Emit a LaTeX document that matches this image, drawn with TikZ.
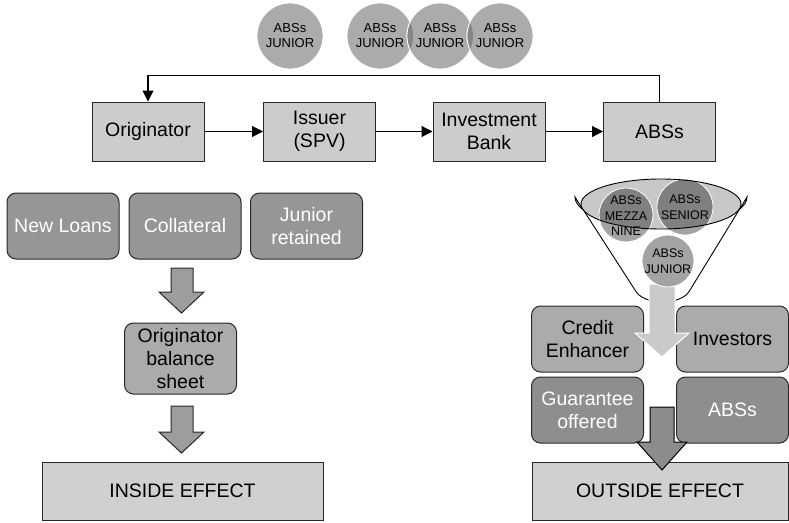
\documentclass[tikz,border=0pt]{standalone}
\usepackage{fontspec}
\setmainfont{Liberation Sans}
\usetikzlibrary{arrows.meta}

\definecolor{boxlight}{RGB}{204,204,204}
\definecolor{effectfill}{RGB}{208,208,208}
\definecolor{darkbox}{RGB}{150,150,150}
\definecolor{midbox}{RGB}{171,171,171}
\definecolor{darkbox2}{RGB}{142,142,142}
\definecolor{arrowdark}{RGB}{157,157,157}
\definecolor{arrowdarkR}{RGB}{140,140,140}
\definecolor{arrowlight}{RGB}{202,202,202}
\definecolor{circfill}{RGB}{171,171,171}
\definecolor{lensfill}{RGB}{133,133,133}
\definecolor{bowlfill}{RGB}{200,200,200}
\definecolor{ballout}{RGB}{163,163,163}
\definecolor{ballin}{RGB}{128,128,128}
\definecolor{edge}{RGB}{40,40,40}

\newcommand{\bigtext}{\fontsize{19.5}{23}\selectfont}
\newcommand{\smalltext}{\fontsize{13}{15}\selectfont}
\newcommand{\balltext}{\fontsize{12.5}{15.5}\selectfont}

\tikzset{
  flowbox/.style={draw=edge, line width=1pt, fill=boxlight, minimum width=112, minimum height=59,
    align=center, font=\bigtext, inner sep=2pt},
  roundbox/.style={draw=edge, line width=1pt, rounded corners=9pt, minimum width=112,
    align=center, font=\bigtext, inner sep=2pt},
  whitelabel/.style={roundbox, fill=darkbox, text=white},
  effectbox/.style={draw=edge, line width=1pt, fill=effectfill, minimum width=281,
    minimum height=58, font=\bigtext},
  flowarrow/.style={line width=1.1pt, -{Triangle[length=11pt,width=11pt]}},
  topball/.style={circle, minimum size=66, inner sep=0pt, align=center, font=\smalltext},
  funnelball/.style={circle, inner sep=0pt, align=center, font=\balltext},
}

\begin{document}
\begin{tikzpicture}[x=1pt,y=-1pt]
\useasboundingbox (0,0) rectangle (789,522);

% ---- tranche circles on top ----
\fill[circfill] (290,36) circle (33);
\draw[white, line width=0.8pt] (290,36) circle (33);
\foreach \cx in {380,440,500}{
  \fill[circfill] (\cx,36) circle (33);
  \draw[white, line width=0.8pt] (\cx,36) circle (33);
}
\begin{scope}
  \clip (380,36) circle (33);
  \fill[lensfill] (440,36) circle (33);
  \draw[white, line width=0.8pt] (440,36) circle (33);
\end{scope}
\begin{scope}
  \clip (440,36) circle (33);
  \fill[lensfill] (500,36) circle (33);
  \draw[white, line width=0.8pt] (500,36) circle (33);
\end{scope}
\node[topball] (j1) at (290,36) {ABSs\\JUNIOR};
\node[topball] (j2) at (380,36) {ABSs\\JUNIOR};
\node[topball] (j3) at (440,36) {ABSs\\JUNIOR};
\node[topball] (j4) at (500,36) {ABSs\\JUNIOR};

% ---- securitisation chain ----
\node[flowbox] (orig) at (148,131.5) {Originator};
\node[flowbox] (spv)  at (319.5,131.5) {Issuer\\(SPV)};
\node[flowbox] (bank) at (489,131.5) {Investment\\Bank};
\node[flowbox] (abs)  at (659.5,131.5) {ABSs};
\draw[flowarrow] (orig) -- (spv);
\draw[flowarrow] (spv) -- (bank);
\draw[flowarrow] (bank) -- (abs);
\draw[flowarrow] (abs.north) -- ++(0,-26) -| (orig.north);

% ---- inside effect ----
\node[whitelabel, minimum height=66] (loans) at (63,226) {New Loans};
\node[whitelabel, minimum height=66] (coll)  at (185,226) {Collateral};
\node[whitelabel, minimum height=66] (jret)  at (306.5,226) {Junior\\retained};
\node[roundbox, fill=midbox, minimum height=71] (obs) at (180.5,358.5) {Originator\\balance\\sheet};
\node[effectbox] (inside) at (182.5,491) {INSIDE EFFECT};

\draw[draw=edge, line width=1pt, fill=arrowdark]
  (171,268) -- (193,268) -- (193,292) -- (204,292) -- (181.5,313)
  -- (159,292) -- (171,292) -- cycle;
\draw[draw=edge, line width=1pt, fill=arrowdark]
  (171,406) -- (193,406) -- (193,432) -- (204,432) -- (181.5,453)
  -- (159,432) -- (171,432) -- cycle;

% ---- outside effect ----
\node[roundbox, fill=midbox, minimum height=66] (cred) at (587.5,339) {Credit\\Enhancer};
\node[roundbox, fill=midbox, minimum height=66] (inv)  at (732.5,339) {Investors};
\node[whitelabel, fill=darkbox2, minimum height=66] (guar) at (587.5,410) {Guarantee\\offered};
\node[whitelabel, fill=darkbox2, minimum height=66] (absb) at (732.5,410) {ABSs};
\node[effectbox, minimum width=256] (outside) at (660,491) {OUTSIDE EFFECT};

% funnel body
\draw[black, line width=0.9pt, fill=white]
  (575,197) arc[start angle=180, end angle=0, x radius=86, y radius=30]
  -- (690,290) .. controls (682,306) and (643,306) .. (635,290) -- cycle;

% light arrow leaving the funnel
\draw[white, line width=1pt, fill=arrowlight]
  (649,284) -- (675,284) -- (675,333) -- (689,333) -- (662,357)
  -- (635,333) -- (649,333) -- cycle;

% bowl with tranches
\fill[bowlfill] (661,204) ellipse[x radius=80, y radius=25];
\foreach \bx/\by/\br in {626/215/27, 685/207/28, 668/261/26}{
  \fill[ballout] (\bx,\by) circle (\br);
}
\begin{scope}
  \clip (661,204) ellipse[x radius=80, y radius=25];
  \fill[ballin] (626,215) circle (27);
  \fill[ballin] (685,207) circle (28);
\end{scope}
\foreach \bx/\by/\br in {626/215/27, 685/207/28, 668/261/26}{
  \draw[white, line width=0.8pt] (\bx,\by) circle (\br);
}
\draw[black, line width=0.9pt] (661,204) ellipse[x radius=80, y radius=25];
\node[funnelball] (mezz) at (626,216) {ABSs\\MEZZA\\NINE};
\node[funnelball] (sen)  at (685,207) {ABSs\\SENIOR};
\node[funnelball] (jun)  at (668,261) {ABSs\\JUNIOR};

% dark arrow into the outside effect
\draw[draw=black, line width=1pt, fill=arrowdarkR]
  (650,407) -- (674,407) -- (674,442) -- (687,442) -- (662,470)
  -- (637,442) -- (650,442) -- cycle;
\end{tikzpicture}
\end{document}
